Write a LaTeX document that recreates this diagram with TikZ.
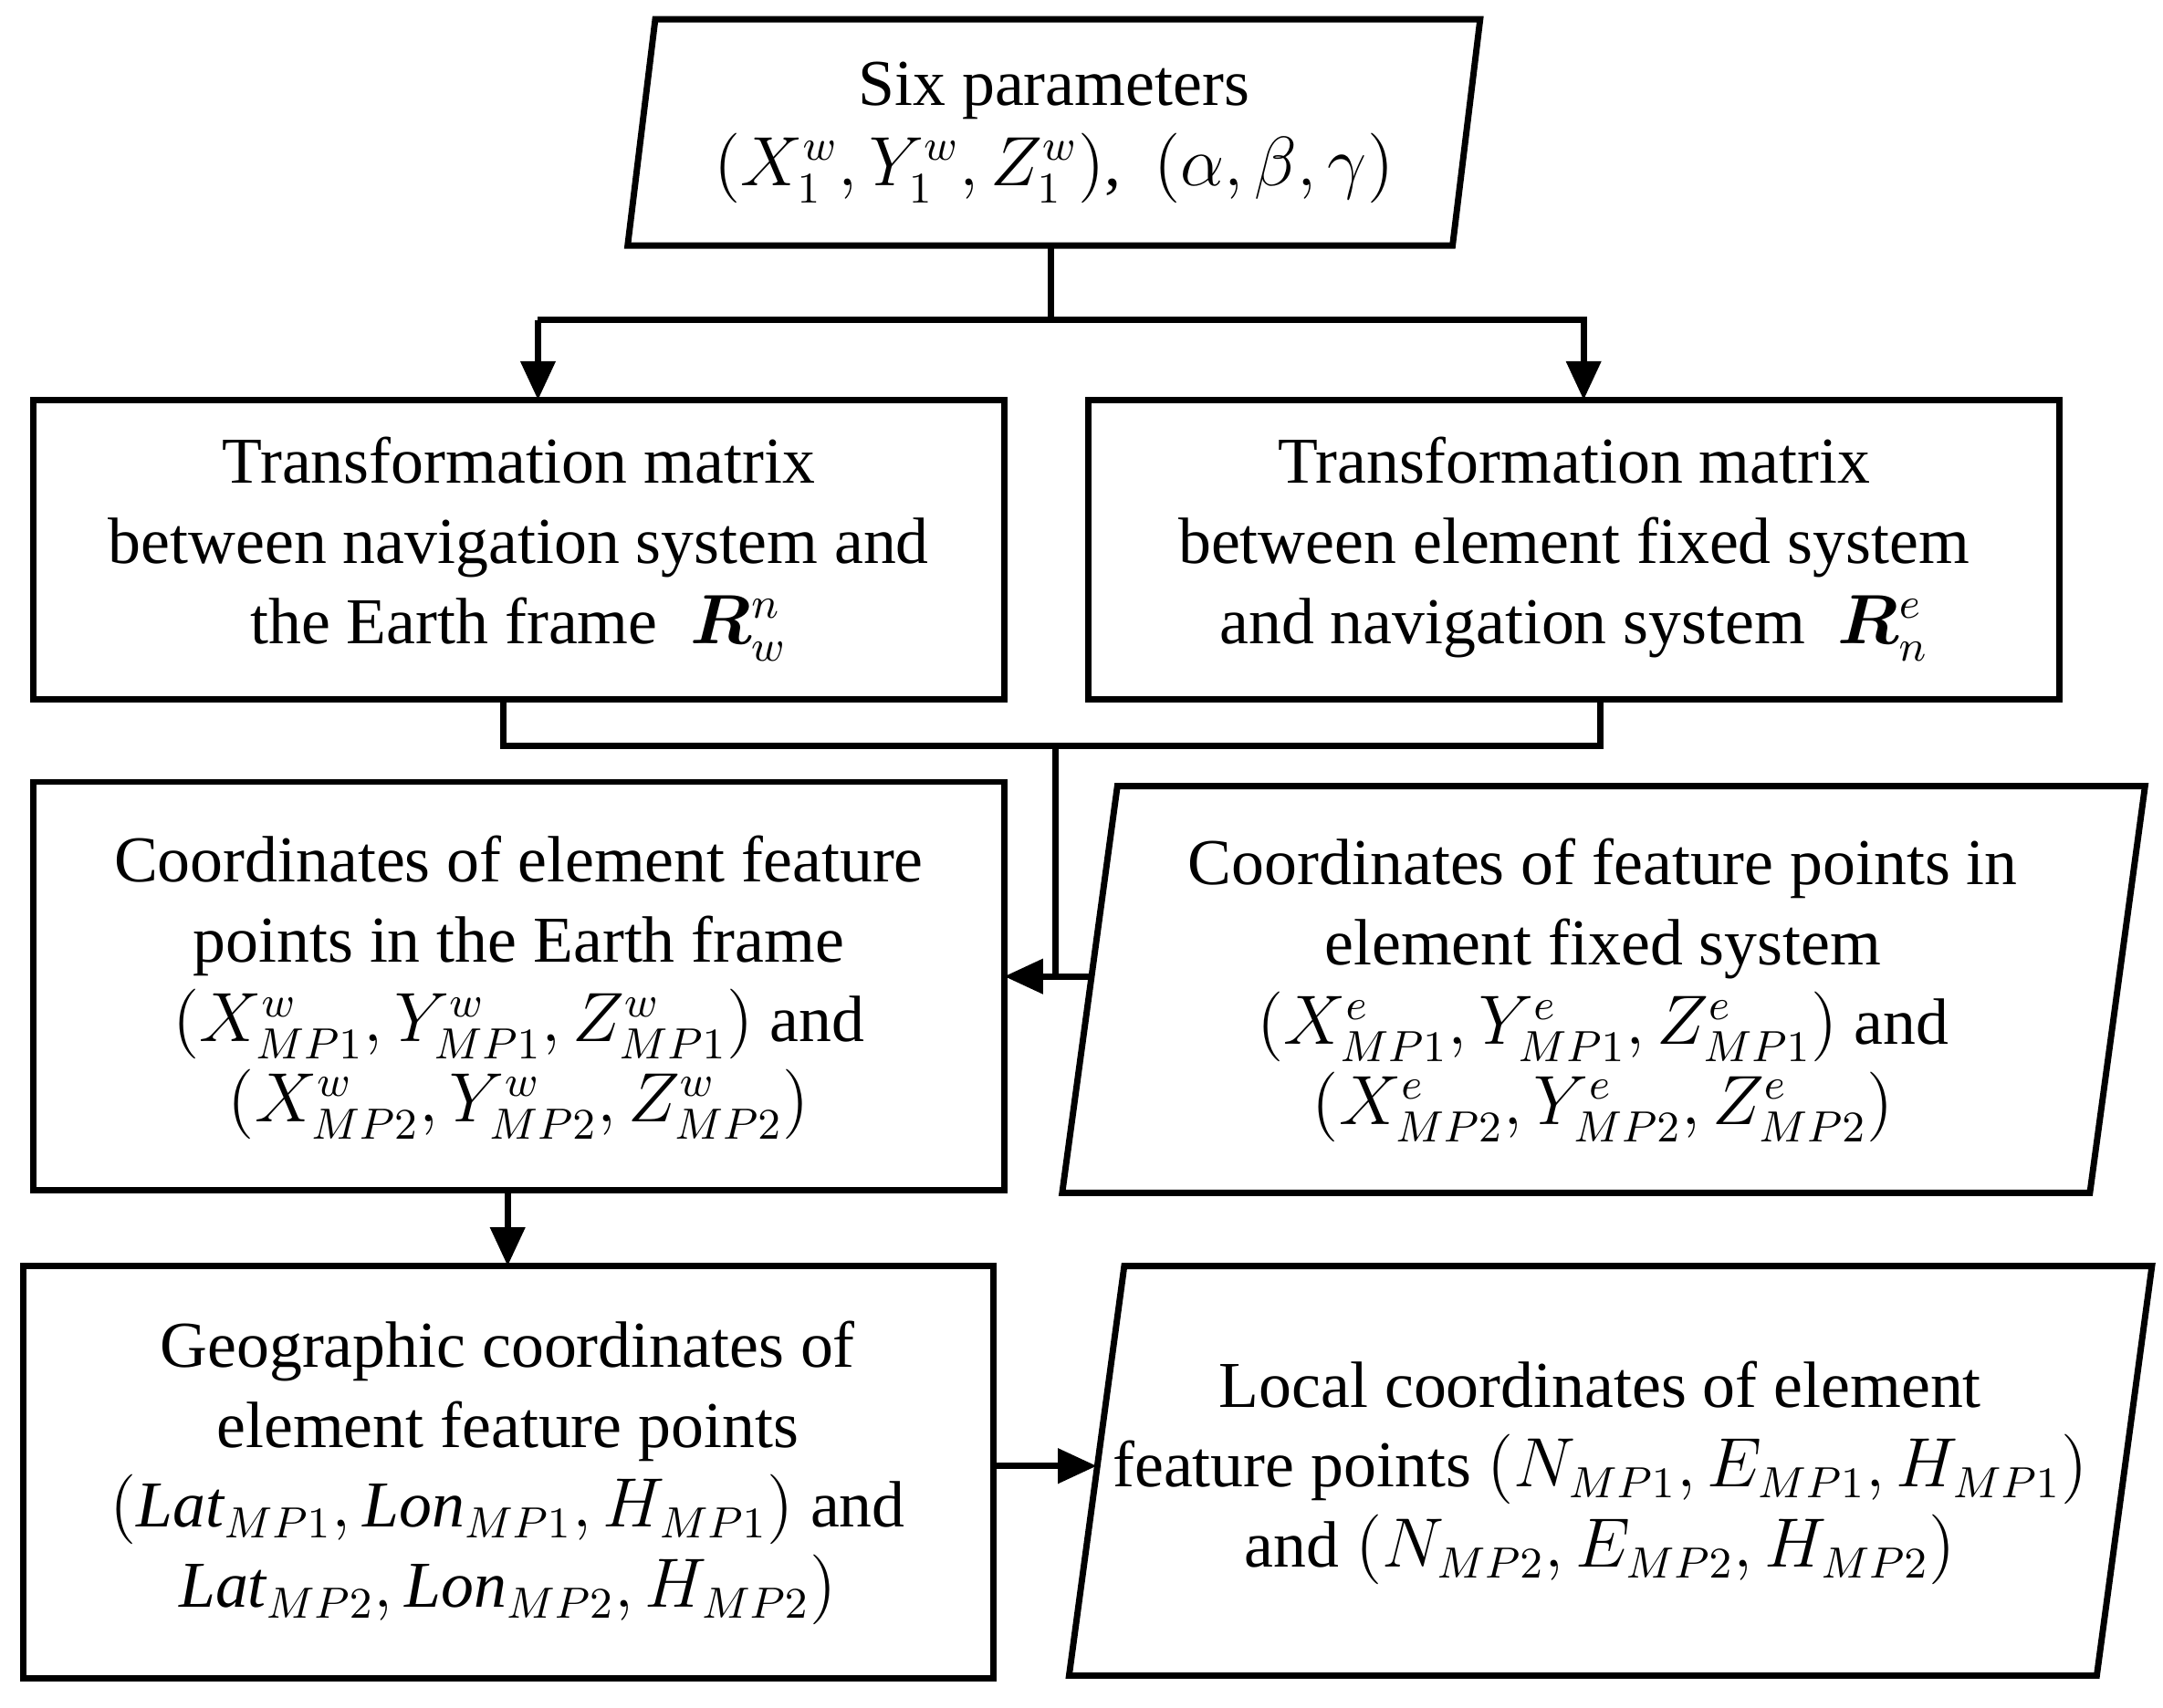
\documentclass[tikz,border=0pt]{standalone}
\usetikzlibrary{arrows.meta}
\usepackage{amsmath,bm}
\usepackage{fontspec}
\setmainfont{Liberation Serif}
\begin{document}
\begin{tikzpicture}[x=0.01cm,y=-0.01cm,
  box/.style={draw,line width=1.3pt},
  txt/.style={align=center,font=\fontsize{13.5}{16.5}\selectfont},
  ln/.style={line width=1.3pt},
  ar/.style={line width=1.3pt,-{Triangle[length=8pt,width=7pt]}}]
\useasboundingbox (0,0) rectangle (1568,1238);
% top parallelogram
\draw[box] (475,14) -- (1073,14) -- (1053,178) -- (455,178) -- cycle;
\node[txt] (P) at (764,96) {Six parameters\\$(X_1^w,Y_1^w,Z_1^w)$,\ \ $(\alpha,\beta,\gamma)$};
\coordinate (Pb) at (762,178);
\coordinate (J1) at (762,232);
\coordinate (L1) at (390,232);
\coordinate (R1) at (1148,232);
% boxes A,B
\draw[box] (24,290) rectangle (728,507);
\draw[box] (789,290) rectangle (1493,507);
\node[txt] (At) at (376,398) {Transformation matrix\\between navigation system and\\the Earth frame \ $\bm{R}_w^n$};
\node[txt] (Bt) at (1141,398) {Transformation matrix\\between element fixed system\\and navigation system \ $\bm{R}_n^e$};
\draw[ln] (Pb) -- (J1);
\draw[ar] (L1) -- (390,290);
\draw[ar] (L1) -- (R1) -- (1148,290);
% merge
\coordinate (Ab) at (365,507);
\coordinate (Bb) at (1160,507);
\coordinate (J2) at (765,541);
\coordinate (J3) at (765,708);
\draw[ln] (Ab) -- (365,541) -- (1160,541) -- (Bb);
\draw[ln] (J2) -- (J3);
\draw[ar] (793,708) -- (728,708);
% C
\draw[box] (24,567) rectangle (728,863);
\node[txt] (Ct) at (376,716) {Coordinates of element feature\\points in the Earth frame\\$(X_{MP1}^w,Y_{MP1}^w,Z_{MP1}^w)$ and\\$(X_{MP2}^w,Y_{MP2}^w,Z_{MP2}^w)$};
% D
\draw[box] (810,570) -- (1555,570) -- (1515,865) -- (770,865) -- cycle;
\node[txt] (Dt) at (1162,718) {Coordinates of feature points in\\element fixed system\\$(X_{MP1}^e,Y_{MP1}^e,Z_{MP1}^e)$ and\\$(X_{MP2}^e,Y_{MP2}^e,Z_{MP2}^e)$};
% E
\draw[ar] (368,863) -- (368,918);
\draw[box] (17,918) rectangle (720,1217);
\node[txt] (Et) at (368,1068) {Geographic coordinates of\\element feature points\\$(\mathit{Lat}_{MP1},\mathit{Lon}_{MP1},H_{MP1})$ and\\$\mathit{Lat}_{MP2},\mathit{Lon}_{MP2},H_{MP2})$};
% F
\draw[box] (815,918) -- (1560,918) -- (1520,1215) -- (775,1215) -- cycle;
\node[txt] (Ft) at (1160,1068) {Local coordinates of element\\feature points $(N_{MP1},E_{MP1},H_{MP1})$\\and $(N_{MP2},E_{MP2},H_{MP2})$};
\draw[ar] (720,1063) -- (795,1063);
\end{tikzpicture}
\end{document}
